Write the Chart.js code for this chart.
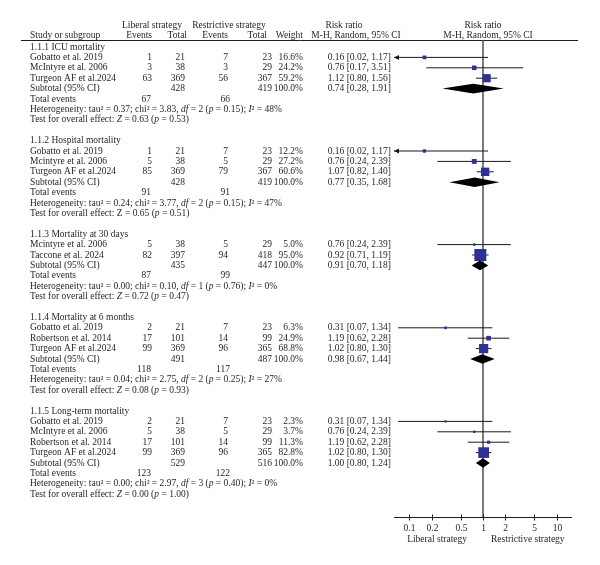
<!DOCTYPE html>
<html><head><meta charset="utf-8">
<script src="https://cdn.jsdelivr.net/npm/chart.js@4.4.1/dist/chart.umd.min.js"></script>
<style>html,body{margin:0;padding:0;background:#fff}#wrap{width:600px;height:565px;position:relative}</style>
</head><body><div id="wrap"><canvas id="c" width="600" height="565"></canvas></div>
<script>
// ---------- data ----------
const groupTitles = ["1.1.1 ICU mortality","1.1.2 Hospital mortality","1.1.3 Mortality at 30 days","1.1.4 Mortality at 6 months","1.1.5 Long-term mortality"];
const studyGroup = [0,0,0,1,1,1,2,2,3,3,3,4,4,4,4];
const studyNames = ["Gobatto et al. 2019","McIntyre et al. 2006","Turgeon AF et al.2024",
  "Gobatto et al. 2019","Mcintyre et al. 2006","Turgeon AF et al.2024",
  "Mcintyre et al. 2006","Taccone et al. 2024",
  "Gobatto et al. 2019","Robertson et al. 2014","Turgeon AF et al.2024",
  "Gobatto et al. 2019","McIntyre et al. 2006","Robertson et al. 2014","Turgeon AF et al.2024"];
const libEvents = [1,3,63, 1,5,85, 5,82, 2,17,99, 2,5,17,99];
const libTotal  = [21,38,369, 21,38,369, 38,397, 21,101,369, 21,38,101,369];
const resEvents = [7,3,56, 7,5,79, 5,94, 7,14,96, 7,5,14,96];
const resTotal  = [23,29,367, 23,29,367, 29,418, 23,99,365, 23,29,99,365];
const studyWeight = [16.6,24.2,59.2, 12.2,27.2,60.6, 5.0,95.0, 6.3,24.9,68.8, 2.3,3.7,11.3,82.8];
const studyRR   = [0.16,0.76,1.12, 0.16,0.76,1.07, 0.76,0.92, 0.31,1.19,1.02, 0.31,0.76,1.19,1.02];
const studyLow  = [0.02,0.17,0.80, 0.02,0.24,0.82, 0.24,0.71, 0.07,0.62,0.80, 0.07,0.24,0.62,0.80];
const studyHigh = [1.17,3.51,1.56, 1.17,2.39,1.40, 2.39,1.19, 1.34,2.28,1.30, 1.34,2.39,2.28,1.30];
const subLibTotal = [428,428,435,491,529];
const subResTotal = [419,419,447,487,516];
const subRR   = [0.74,0.77,0.91,0.98,1.00];
const subLow  = [0.28,0.35,0.70,0.67,0.80];
const subHigh = [1.91,1.68,1.18,1.44,1.24];
const totLibEvents = [67,91,87,118,123];
const totResEvents = [66,91,99,117,122];
const hetTau2 = ["0.37","0.24","0.00","0.04","0.00"];
const hetChi2 = ["3.83","3.77","0.10","2.75","2.97"];
const hetDf   = [2,2,1,2,3];
const hetP    = ["0.15","0.15","0.76","0.25","0.40"];
const hetI2   = [48,47,0,27,0];
const testZ   = ["0.63","0.65","0.72","0.08","0.00"];
const testP   = ["0.53","0.51","0.47","0.93","1.00"];
const axisTicks  = [0.1,0.2,0.5,1,2,5,10];
const axisLabels = ["0.1","0.2","0.5","1","2","5","10"];
const favourLabels = ["Liberal strategy","Restrictive strategy"];

// ---------- layout (row indices) ----------
const titleLine=[], studyLine=[], subLine=[], totLine=[], hetLine=[], testLine=[];
(function(){
  let L = 0;
  for (let g = 0; g < groupTitles.length; g++) {
    titleLine[g] = L++;
    studyGroup.forEach((sg, i) => { if (sg === g) studyLine[i] = L++; });
    subLine[g] = L++; totLine[g] = L++; hetLine[g] = L++; testLine[g] = L++;
    L++;
  }
})();

const FF = "'Liberation Serif', 'Times New Roman', serif";
const FS = 9.5;
const TXT = '#231f20';
const fmt2 = v => v.toFixed(2);
const ciText = (r,l,h) => `${fmt2(r)} [${fmt2(l)}, ${fmt2(h)}]`;
const sqSide = w => 2 + 0.105 * w;

const datasets = [];
datasets.push({
  label: 'studies',
  data: studyRR.map((r, i) => ({x: r, y: studyLine[i]})),
  pointStyle: 'rect',
  pointRadius: studyWeight.map(w => sqSide(w) / Math.SQRT2),
  pointBackgroundColor: '#2e3192',
  pointBorderWidth: 0,
  showLine: false,
  order: 0
});
studyRR.forEach((r, i) => {
  datasets.push({
    label: 'ci' + i,
    data: [{x: studyLow[i], y: studyLine[i]}, {x: studyHigh[i], y: studyLine[i]}],
    showLine: true, pointRadius: 0, borderColor: '#1a1a1a', borderWidth: 1,
    order: 1
  });
});

function txt(ctx, s, x, y, align, italic) {
  ctx.font = (italic ? 'italic ' : '') + FS + 'px ' + FF;
  ctx.textAlign = align || 'left';
  ctx.fillText(s, x, y);
}
function rich(ctx, segs, x, y) {
  ctx.textAlign = 'left';
  let cx = x;
  for (const [t, it] of segs) {
    ctx.font = (it ? 'italic ' : '') + FS + 'px ' + FF;
    ctx.fillText(t, cx, y);
    cx += ctx.measureText(t).width;
  }
}

const forestPlugin = {
  id: 'forest',
  beforeDatasetsDraw(chart) {
    const ctx = chart.ctx, xs = chart.scales.x, ys = chart.scales.y, a = chart.chartArea;
    ctx.save();
    // header rule
    ctx.strokeStyle = '#231f20'; ctx.lineWidth = 1;
    ctx.beginPath(); ctx.moveTo(21, a.top + 0.5); ctx.lineTo(578, a.top + 0.5); ctx.stroke();
    // line of no effect
    const x1 = xs.getPixelForValue(1);
    ctx.strokeStyle = '#4d4d4d'; ctx.lineWidth = 1.5;
    ctx.beginPath(); ctx.moveTo(x1, a.top); ctx.lineTo(x1, a.bottom); ctx.stroke();
    ctx.restore();
  },
  afterDatasetsDraw(chart) {
    const ctx = chart.ctx, xs = chart.scales.x, ys = chart.scales.y, a = chart.chartArea;
    ctx.save();
    // arrows for truncated CIs
    ctx.fillStyle = '#1a1a1a';
    studyLow.forEach((l, i) => {
      if (l < xs.min) {
        const y = ys.getPixelForValue(studyLine[i]);
        ctx.beginPath(); ctx.moveTo(a.left, y); ctx.lineTo(a.left + 5, y - 2.5); ctx.lineTo(a.left + 5, y + 2.5); ctx.closePath(); ctx.fill();
      }
    });
    // diamonds
    ctx.fillStyle = '#000';
    subRR.forEach((r, g) => {
      const y = ys.getPixelForValue(subLine[g]);
      const h = Math.abs(ys.getPixelForValue(subLine[g] + 0.46) - y);
      ctx.beginPath();
      ctx.moveTo(xs.getPixelForValue(subLow[g]), y);
      ctx.lineTo(xs.getPixelForValue(r), y - h);
      ctx.lineTo(xs.getPixelForValue(subHigh[g]), y);
      ctx.lineTo(xs.getPixelForValue(r), y + h);
      ctx.closePath(); ctx.fill();
    });
    // axis
    ctx.strokeStyle = '#231f20'; ctx.lineWidth = 1;
    const ay = a.bottom + 0.5;
    ctx.beginPath(); ctx.moveTo(a.left, ay); ctx.lineTo(a.right, ay); ctx.stroke();
    ctx.fillStyle = TXT; ctx.textBaseline = 'middle';
    axisTicks.forEach((t, k) => {
      const px = Math.round(xs.getPixelForValue(t)) + 0.5;
      ctx.beginPath(); ctx.moveTo(px, ay - 3); ctx.lineTo(px, ay + 3); ctx.stroke();
      txt(ctx, axisLabels[k], px, ay + 10.5, 'center');
    });
    const x1 = xs.getPixelForValue(1);
    txt(ctx, favourLabels[0], x1 - 16, ay + 21.5, 'right');
    txt(ctx, favourLabels[1], x1 + 8, ay + 21.5, 'left');
    ctx.restore();
  },
  afterDraw(chart) {
    const ctx = chart.ctx, ys = chart.scales.y;
    ctx.save();
    ctx.fillStyle = TXT; ctx.textBaseline = 'middle';
    const Y = L => ys.getPixelForValue(L);
    // headers
    const h1 = Y(-2.1), h2 = Y(-1.15);
    txt(ctx, 'Liberal strategy', 152, h1, 'center');
    txt(ctx, 'Restrictive strategy', 229, h1, 'center');
    txt(ctx, 'Risk ratio', 344, h1, 'center');
    txt(ctx, 'Risk ratio', 483, h1, 'center');
    txt(ctx, 'Study or subgroup', 30, h2, 'left');
    txt(ctx, 'Events', 152, h2, 'right');
    txt(ctx, 'Total', 187, h2, 'right');
    txt(ctx, 'Events', 228, h2, 'right');
    txt(ctx, 'Total', 267, h2, 'right');
    txt(ctx, 'Weight', 303, h2, 'right');
    txt(ctx, 'M-H, Random, 95% CI', 356, h2, 'center');
    txt(ctx, 'M-H, Random, 95% CI', 488, h2, 'center');
    // groups
    groupTitles.forEach((t, g) => {
      txt(ctx, t, 30, Y(titleLine[g]), 'left');
      const ys2 = Y(subLine[g]);
      txt(ctx, 'Subtotal (95% CI)', 30, ys2, 'left');
      txt(ctx, String(subLibTotal[g]), 185, ys2, 'right');
      txt(ctx, String(subResTotal[g]), 272, ys2, 'right');
      txt(ctx, '100.0%', 303, ys2, 'right');
      txt(ctx, ciText(subRR[g], subLow[g], subHigh[g]), 391, ys2, 'right');
      const yt = Y(totLine[g]);
      txt(ctx, 'Total events', 30, yt, 'left');
      txt(ctx, String(totLibEvents[g]), 151, yt, 'right');
      txt(ctx, String(totResEvents[g]), 230, yt, 'right');
      rich(ctx, [['Heterogeneity: tau\u00B2 = ' + hetTau2[g] + '; chi\u00B2 = ' + hetChi2[g] + ', ', false], ['df', true],
        [' = ' + hetDf[g] + ' (', false], ['p', true], [' = ' + hetP[g] + '); ', false], ['I', true], ['\u00B2 = ' + hetI2[g] + '%', false]],
        30, Y(hetLine[g]));
      rich(ctx, [['Test for overall effect: ', false], ['Z', g !== 1], [' = ' + testZ[g] + ' (', false], ['p', true], [' = ' + testP[g] + ')', false]],
        30, Y(testLine[g]));
    });
    // studies
    studyNames.forEach((n, i) => {
      const y = Y(studyLine[i]);
      txt(ctx, n, 30, y, 'left');
      txt(ctx, String(libEvents[i]), 152, y, 'right');
      txt(ctx, String(libTotal[i]), 185, y, 'right');
      txt(ctx, String(resEvents[i]), 228, y, 'right');
      txt(ctx, String(resTotal[i]), 272, y, 'right');
      txt(ctx, studyWeight[i].toFixed(1) + '%', 303, y, 'right');
      txt(ctx, ciText(studyRR[i], studyLow[i], studyHigh[i]), 391, y, 'right');
    });
    ctx.restore();
  }
};

const TOP = 40, BOTTOM = 517, ROW0 = 47, ROWH = 10.4;
new Chart(document.getElementById('c'), {
  type: 'scatter',
  data: { datasets },
  options: {
    responsive: false, animation: false, devicePixelRatio: 1,
    layout: { padding: { left: 394, right: 28, top: TOP, bottom: 565 - BOTTOM } },
    plugins: { legend: { display: false }, tooltip: { enabled: false } },
    scales: {
      x: { type: 'logarithmic', min: 0.0617, max: 16.2, display: false },
      y: { type: 'linear', reverse: true, min: (TOP - ROW0) / ROWH, max: (BOTTOM - ROW0) / ROWH, display: false }
    }
  },
  plugins: [forestPlugin]
});
</script>
</body></html>
